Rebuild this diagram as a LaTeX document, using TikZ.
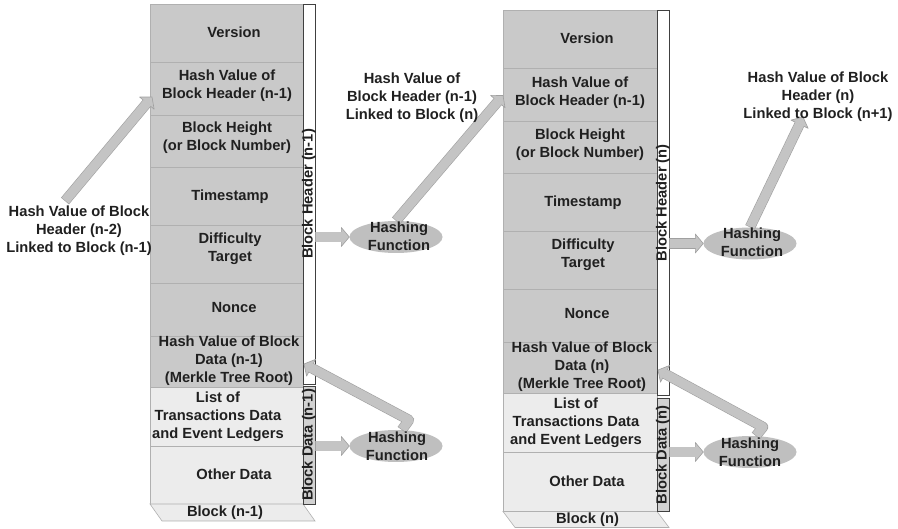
\documentclass[tikz,border=0pt]{standalone}
\usepackage{fontspec}
\setmainfont{Liberation Sans}
\usetikzlibrary{calc,shapes.geometric}
\definecolor{hdr}{HTML}{C9C9C9}
\definecolor{dat}{HTML}{ECECEC}
\definecolor{sep}{HTML}{B0B0B0}
\definecolor{afill}{HTML}{C4C4C4}
\definecolor{aedge}{HTML}{A0A0A0}
\definecolor{efill}{HTML}{BFBFBF}
\definecolor{txt}{HTML}{202020}
\definecolor{barline}{HTML}{404040}
\definecolor{dbar}{HTML}{D2D2D2}
\tikzset{
 txtsty/.style={font=\fontsize{14.7}{17.8}\selectfont\bfseries, text=txt, inner sep=0pt, align=center},
 hrow/.style={fill=hdr, draw=sep, line width=0.6pt},
 drow/.style={fill=dat, draw=sep, line width=0.6pt},
 hbar/.style={txtsty, draw=barline, fill=white, line width=0.8pt, rotate=90, minimum height=12pt, text height=9.5pt, text depth=2.5pt},
 dbarsty/.style={hbar, fill=dbar},
 hashell/.style={ellipse, fill=efill, minimum width=93pt, minimum height=32pt, inner sep=0pt},
 shaftedge/.style={draw=aedge, line width=10.4pt, line join=round},
 shaftfill/.style={draw=afill, line width=9.2pt, line join=round},
 headsty/.style={fill=afill, draw=aedge, line width=0.6pt, line join=round},
 basesty/.style={fill=dat, draw=sep, line width=0.6pt},
}
\newcommand{\ahead}[2]{%
  \coordinate (hb) at ($(#2)!8pt!(#1)$);
  \path[headsty] ($(hb)!9.5pt!90:(#2)$) -- (#2) -- ($(hb)!9.5pt!-90:(#2)$) -- cycle;}
\newcommand{\garrow}[2]{%
  \draw[shaftedge] (#1) -- ($(#2)!7.6pt!(#1)$);
  \ahead{#1}{#2}
  \draw[shaftfill] ($(#1)!0.6pt!(#2)$) -- ($(#2)!7.2pt!(#1)$);}
\begin{document}
\begin{tikzpicture}[x=1pt,y=-1pt]
\useasboundingbox (0,0) rectangle (898,529);
\fill[white] (0,0) rectangle (898,529);

% ---------- left block ----------
\draw[hrow] (150,4) rectangle (303,62);
\draw[hrow] (150,62) rectangle (303,115);
\draw[hrow] (150,115) rectangle (303,167);
\draw[hrow] (150,167) rectangle (303,225);
\draw[hrow] (150,225) rectangle (303,283);
\draw[hrow] (150,283) rectangle (303,336);
\draw[hrow] (150,336) rectangle (303,387);
\draw[drow] (150,387) rectangle (303,446);
\draw[drow] (150,446) rectangle (303,504);
\draw[basesty] (150,504) -- (303,504) -- (315,521) -- (162,521) -- cycle;
\node[txtsty] (verL) at (234,32) {Version};
\node[txtsty] (phL) at (227,86) {Hash Value of\\Block Header (n-1)};
\node[txtsty] (htL) at (227,138) {Block Height\\(or Block Number)};
\node[txtsty] (tsL) at (230,196.5) {Timestamp};
\node[txtsty] (dfL) at (230,248.5) {Difficulty\\Target};
\node[txtsty] (ncL) at (234,307.5) {Nonce};
\node[txtsty] (mkL) at (229,360.5) {Hash Value of Block\\Data (n-1)\\(Merkle Tree Root)};
\node[txtsty] (lsL) at (218,416.5) {List of\\Transactions Data\\and Event Ledgers};
\node[txtsty] (odL) at (234,474.5) {Other Data};
\node[txtsty] (bkL) at (225,513) {Block (n-1)};
\node[hbar, minimum width=380pt] (bhL) at (309,194) {Block Header (n-1)};
\node[dbarsty, minimum width=118pt] (bdL) at (309,445) {Block Data (n-1)};

% ---------- right block ----------
\begin{scope}[shift={(353,6.5)}]
\draw[hrow] (150,4) rectangle (304,62);
\draw[hrow] (150,62) rectangle (304,115);
\draw[hrow] (150,115) rectangle (304,167);
\draw[hrow] (150,167) rectangle (304,225);
\draw[hrow] (150,225) rectangle (304,283);
\draw[hrow] (150,283) rectangle (304,336);
\draw[hrow] (150,336) rectangle (304,387);
\draw[drow] (150,387) rectangle (304,446);
\draw[drow] (150,446) rectangle (304,505);
\draw[basesty] (150,505) -- (304,505) -- (316,521) -- (162,521) -- cycle;
\node[txtsty] (verR) at (234,32) {Version};
\node[txtsty] (phR) at (227,86) {Hash Value of\\Block Header (n-1)};
\node[txtsty] (htR) at (227,138) {Block Height\\(or Block Number)};
\node[txtsty] (tsR) at (230,196.5) {Timestamp};
\node[txtsty] (dfR) at (230,248.5) {Difficulty\\Target};
\node[txtsty] (ncR) at (234,307.5) {Nonce};
\node[txtsty] (mkR) at (229,360.5) {Hash Value of Block\\Data (n)\\(Merkle Tree Root)};
\node[txtsty] (lsR) at (223,416.5) {List of\\Transactions Data\\and Event Ledgers};
\node[txtsty] (odR) at (234,474.5) {Other Data};
\node[txtsty] (bkR) at (234.5,513) {Block (n)};
\node[hbar, minimum width=384.5pt] (bhR) at (310,196.25) {Block Header (n)};
\node[dbarsty, minimum width=113.5pt] (bdR) at (310,448.25) {Block Data (n)};
\end{scope}

% ---------- hashing functions ----------
\node[hashell] (hf1) at (396,237) {};
\node[hashell] (hf2) at (396,446) {};
\node[hashell] (hf3) at (750,243.5) {};
\node[hashell] (hf4) at (750,452) {};

% ---------- arrows ----------
\coordinate (d1s) at (65,201);
\coordinate (d1t) at (152,97);
\garrow{d1s}{d1t}
\coordinate (d2t) at (503,95.5);
\garrow{hf1.north}{d2t}
\coordinate (d3t) at (803,117);
\garrow{hf3.north}{d3t}
\coordinate (h1s) at (315,237);
\garrow{h1s}{hf1.west}
\coordinate (h2s) at (315,446);
\garrow{h2s}{hf2.west}
\coordinate (h3s) at (669,243.5);
\garrow{h3s}{hf3.west}
\coordinate (h4s) at (669,452);
\garrow{h4s}{hf4.west}

\coordinate (e1k) at (409,420);
\coordinate (e1t) at (304,364);
\draw[shaftedge] (hf2.70) -- (e1k) -- ($(e1t)!7.6pt!(e1k)$);
\ahead{e1k}{e1t}
\draw[shaftfill] ($(hf2.70)!0.6pt!(e1k)$) -- (e1k) -- ($(e1t)!7.2pt!(e1k)$);

\coordinate (e2k) at (763,427);
\coordinate (e2t) at (658,370);
\draw[shaftedge] (hf4.70) -- (e2k) -- ($(e2t)!7.6pt!(e2k)$);
\ahead{e2k}{e2t}
\draw[shaftfill] ($(hf4.70)!0.6pt!(e2k)$) -- (e2k) -- ($(e2t)!7.2pt!(e2k)$);

% ---------- texts ----------
\node[txtsty] (hf1t) at (399,236.5) {Hashing\\Function};
\node[txtsty] (hf2t) at (397,446) {Hashing\\Function};
\node[txtsty] (hf3t) at (752,242.5) {Hashing\\Function};
\node[txtsty] (hf4t) at (750,452) {Hashing\\Function};

\node[txtsty] (lblA) at (79,231) {Hash Value of Block\\Header (n-2)\\Linked to Block (n-1)};
\node[txtsty] (lblB) at (412,98) {Hash Value of\\Block Header (n-1)\\Linked to Block (n)};
\node[txtsty] (lblC) at (818,97) {Hash Value of Block\\Header (n)\\Linked to Block (n+1)};
\end{tikzpicture}
\end{document}
